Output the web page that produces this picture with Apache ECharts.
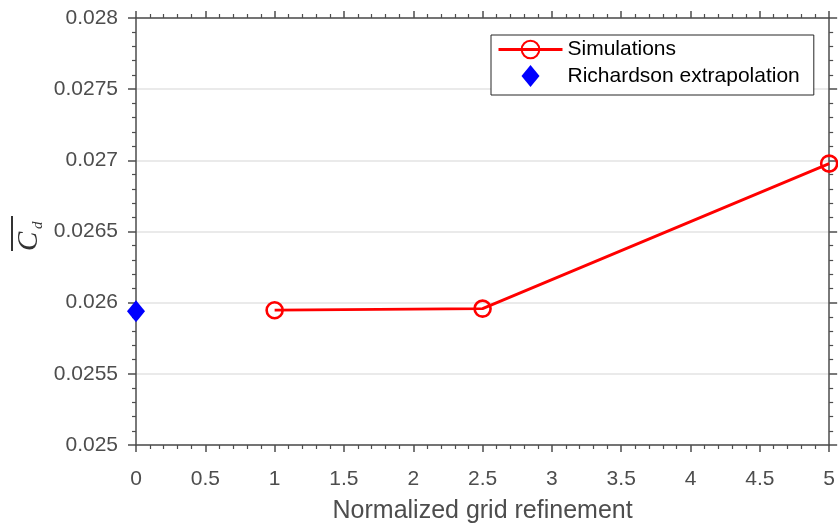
<!DOCTYPE html>
<html>
<head>
<meta charset="utf-8">
<script src="https://cdn.jsdelivr.net/npm/echarts@6/dist/echarts.min.js"></script>
<style>
  html, body { margin: 0; padding: 0; background: #ffffff; }
  #chart { width: 838px; height: 529px; }
</style>
</head>
<body>
<div id="chart"></div>
<script>
// Grid refinement study: mean drag coefficient vs normalized grid refinement
const simulationX = [1, 2.5, 5];
const simulationY = [0.025947, 0.025958, 0.026977];
const richardsonX = [0];
const richardsonY = [0.02594];

const xTickValues = [0, 0.5, 1, 1.5, 2, 2.5, 3, 3.5, 4, 4.5, 5];
const xTickLabels = ['0', '0.5', '1', '1.5', '2', '2.5', '3', '3.5', '4', '4.5', '5'];
const yTickValues = [0.025, 0.0255, 0.026, 0.0265, 0.027, 0.0275, 0.028];
const yTickLabels = ['0.025', '0.0255', '0.026', '0.0265', '0.027', '0.0275', '0.028'];

const seriesNames = ['Simulations', 'Richardson extrapolation'];
const xTitle = 'Normalized grid refinement';

function lookupLabel(values, labels, v) {
  for (let i = 0; i < values.length; i++) {
    if (Math.abs(values[i] - v) < 1e-9) return labels[i];
  }
  return '';
}

const axisColor = '#4d4d4d';
const labelFont = 'Liberation Sans, Arial, Helvetica, sans-serif';

function xAxisDef(position, showLabels) {
  return {
    type: 'value',
    position: position,
    min: 0, max: 5, interval: 0.5,
    name: showLabels ? xTitle : '',
    nameLocation: 'middle',
    nameGap: 54,
    nameTextStyle: { fontFamily: labelFont, fontSize: 25, color: axisColor },
    axisLine: { show: true, onZero: false, lineStyle: { color: axisColor, width: 1.5 } },
    axisTick: { show: true, inside: false, length: 7, lineStyle: { color: axisColor, width: 1.5 } },
    minorTick: { show: true, splitNumber: 5, length: 4, lineStyle: { color: axisColor, width: 1.2 } },
    axisLabel: {
      show: showLabels, margin: 24, fontFamily: labelFont, fontSize: 21, color: axisColor,
      formatter: v => lookupLabel(xTickValues, xTickLabels, v)
    },
    splitLine: { show: false },
    minorSplitLine: { show: false }
  };
}

function yAxisDef(position, showLabels) {
  return {
    type: 'value',
    position: position,
    min: 0.025, max: 0.028, interval: 0.0005,
    axisLine: { show: true, onZero: false, lineStyle: { color: axisColor, width: 1.5 } },
    axisTick: { show: true, inside: false, length: 8, lineStyle: { color: axisColor, width: 1.5 } },
    minorTick: { show: true, splitNumber: 5, length: 4, lineStyle: { color: axisColor, width: 1.2 } },
    axisLabel: {
      show: showLabels, margin: 18, fontFamily: labelFont, fontSize: 21, color: axisColor,
      formatter: v => lookupLabel(yTickValues, yTickLabels, v)
    },
    splitLine: { show: showLabels, lineStyle: { color: '#e3e3e3', width: 1.5 } },
    minorSplitLine: { show: false }
  };
}

const chart = echarts.init(document.getElementById('chart'), null, { renderer: 'canvas' });

chart.setOption({
  backgroundColor: '#ffffff',
  animation: false,
  grid: { left: 136, right: 3, top: 18, bottom: 81, containLabel: false },
  xAxis: [xAxisDef('bottom', true), xAxisDef('top', false)],
  yAxis: [yAxisDef('left', true), yAxisDef('right', false)],
  legend: {
    orient: 'vertical',
    left: 491, top: 35,
    padding: [4, 14, 8, 6],
    itemGap: 5,
    itemWidth: 64,
    itemHeight: 22,
    symbolKeepAspect: true,
    lineStyle: { width: 3 },
    backgroundColor: '#ffffff',
    borderColor: '#262626',
    borderWidth: 1,
    borderRadius: 0,
    textStyle: { fontFamily: labelFont, fontSize: 21, color: '#000000' },
    data: [
      { name: seriesNames[0] },
      { name: seriesNames[1], icon: 'path://M9,0L18,11L9,22L0,11Z' }
    ]
  },
  graphic: [{
    type: 'group',
    x: 38, y: 251,
    rotation: Math.PI / 2,
    children: [
      { type: 'text', x: 0, y: -9,
        style: { text: 'C', font: 'italic 29px "Liberation Serif", "DejaVu Serif", serif',
                 fill: '#333333', align: 'left', verticalAlign: 'middle' } },
      { type: 'text', x: 22, y: 0,
        style: { text: 'd', font: 'italic 15px "Liberation Serif", "DejaVu Serif", serif',
                 fill: '#333333', align: 'left', verticalAlign: 'middle' } },
      { type: 'rect', shape: { x: 0, y: -27, width: 35, height: 2 },
        style: { fill: '#333333' } }
    ]
  }],
  series: [
    {
      name: seriesNames[0],
      type: 'line',
      xAxisIndex: 0, yAxisIndex: 0,
      data: simulationX.map((x, i) => [x, simulationY[i]]),
      symbol: 'circle',
      symbolSize: 16,
      showAllSymbol: true,
      clip: false,
      lineStyle: { color: '#ff0000', width: 2.8 },
      itemStyle: { color: 'rgba(255,255,255,0)', borderColor: '#ff0000', borderWidth: 2.6 },
      emphasis: { disabled: true },
      z: 3
    },
    {
      name: seriesNames[1],
      type: 'scatter',
      xAxisIndex: 0, yAxisIndex: 0,
      data: richardsonX.map((x, i) => [x, richardsonY[i]]),
      symbol: 'diamond',
      symbolSize: [18, 22],
      clip: false,
      itemStyle: { color: '#0000ff', opacity: 1 },
      emphasis: { disabled: true },
      z: 4
    }
  ]
});
</script>
</body>
</html>
